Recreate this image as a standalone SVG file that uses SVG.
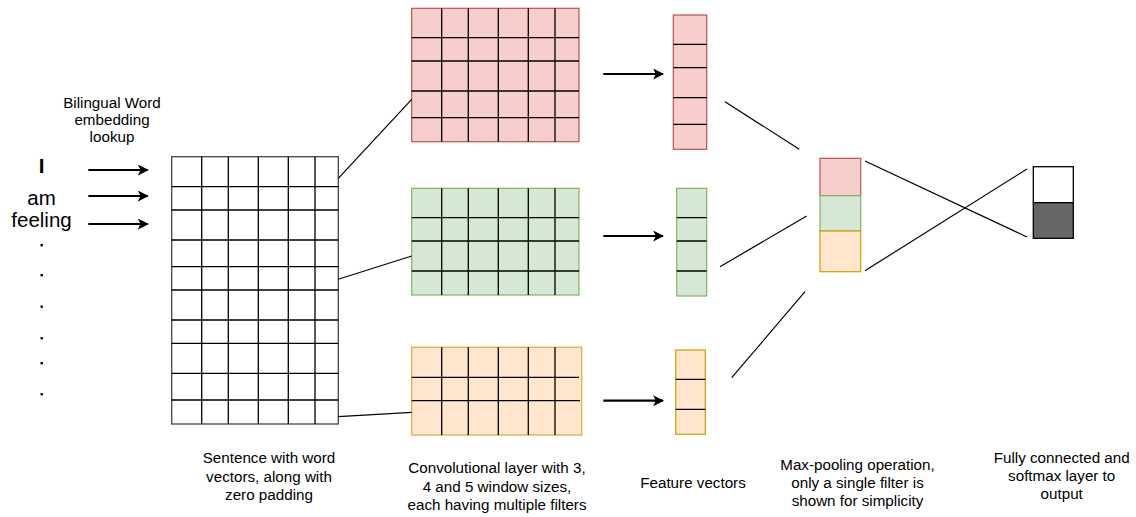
<svg xmlns="http://www.w3.org/2000/svg" width="1136" height="517" viewBox="0 0 1136 517">
<defs>
<marker id="ah" viewBox="0 0 10 10" refX="9" refY="5" markerWidth="5" markerHeight="5" orient="auto" markerUnits="strokeWidth">
<path d="M0,0 L10,5 L0,10 L2.5,5 Z" fill="#000"/>
</marker>
<style>
text{font-family:"Liberation Sans",Arial,Helvetica,sans-serif;fill:#000;}
.lbl{font-size:15.2px;text-anchor:middle;}
.word{font-size:20.5px;text-anchor:middle;}
.g{stroke:#000;stroke-width:1.3;fill:none;}
.conn{stroke:#000;stroke-width:1.2;fill:none;}
.arr{stroke:#000;stroke-width:2.2;fill:none;marker-end:url(#ah);}
.red{fill:#f8cecc;stroke:#b85450;stroke-width:1.2;}
.green{fill:#d5e8d4;stroke:#82b366;stroke-width:1.2;}
.orange{fill:#ffe6cc;stroke:#d79b00;stroke-width:1.2;}
.orangeg{fill:#ffe6cc;stroke:#dfb456;stroke-width:1.4;}
</style>
</defs>
<rect width="1136" height="517" fill="#fff"/>

<g id="words">
<text class="word" x="41.5" y="172.5" style="font-weight:bold">I</text>
<text class="word" x="41.5" y="205">am</text>
<text class="word" x="41.5" y="227">feeling</text>
<g fill="#000">
<rect x="40.5" y="244" width="2.4" height="2.4"/>
<rect x="40.5" y="274" width="2.4" height="2.4"/>
<rect x="40.5" y="305.5" width="2.4" height="2.4"/>
<rect x="40.5" y="337" width="2.4" height="2.4"/>
<rect x="40.5" y="362" width="2.4" height="2.4"/>
<rect x="40.5" y="393" width="2.4" height="2.4"/>
</g>
</g>

<g id="lookup-label">
<text class="lbl" x="112" y="108">Bilingual Word</text>
<text class="lbl" x="112" y="125">embedding</text>
<text class="lbl" x="112" y="142">lookup</text>
</g>

<g id="sentence-matrix">
<rect x="171.7" y="156.7" width="166.6" height="267.3" fill="#fff" stroke="#444" stroke-width="1.3"/>
<path class="g" d="M201.7,156.7V424 M228.3,156.7V424 M258.3,156.7V424 M288.3,156.7V424 M315,156.7V424 M171.7,186.7H338.3 M171.7,210H338.3 M171.7,240H338.3 M171.7,266.7H338.3 M171.7,290H338.3 M171.7,320H338.3 M171.7,343.3H338.3 M171.7,373.3H338.3 M171.7,400H338.3"/>
</g>

<g id="conv-red">
<rect class="red" x="411.7" y="8.3" width="167.3" height="133.4"/>
<path class="g" d="M441.7,8.3V141.7 M468.3,8.3V141.7 M498.3,8.3V141.7 M528.3,8.3V141.7 M555,8.3V141.7 M411.7,37.7H579 M411.7,61H579 M411.7,91H579 M411.7,117.7H579"/>
</g>

<g id="conv-green">
<rect class="green" x="411.7" y="188.3" width="167.3" height="106.7"/>
<path class="g" d="M441.7,188.3V295 M468.3,188.3V295 M498.3,188.3V295 M528.3,188.3V295 M555,188.3V295 M411.7,217.7H579 M411.7,241H579 M411.7,271H579"/>
</g>

<g id="conv-orange">
<rect class="orangeg" x="411.7" y="347.3" width="170" height="87.7"/>
<path class="g" d="M441.7,347.3V435 M468.3,347.3V435 M498.3,347.3V435 M528.3,347.3V435 M555,347.3V435 M411.7,377.3H579 M411.7,400.7H580"/>
</g>

<g id="feature-red">
<rect class="red" x="673.3" y="15" width="33.4" height="134.3"/>
<path class="g" d="M673.3,44.3H706.7 M673.3,67.7H706.7 M673.3,97.7H706.7 M673.3,124.3H706.7"/>
</g>

<g id="feature-green">
<rect class="green" x="676.7" y="188.3" width="30" height="107.7"/>
<path class="g" d="M676.7,217.7H706.7 M676.7,241H706.7 M676.7,271H706.7"/>
</g>

<g id="feature-orange">
<rect class="orange" x="675.7" y="350" width="29.6" height="84.3"/>
<path class="g" d="M675.7,379.3H705.3 M675.7,409.3H705.3"/>
</g>

<g id="maxpool">
<rect class="red" x="820" y="158.3" width="40.7" height="37.4"/>
<rect class="green" x="820" y="195.7" width="40.7" height="35.3"/>
<rect class="orange" x="820" y="231" width="40.7" height="40.7"/>
</g>

<g id="output">
<rect x="1033.3" y="166.7" width="40" height="36" fill="#fff" stroke="#000" stroke-width="1.3"/>
<rect x="1033.3" y="202.7" width="40" height="35.6" fill="#666666" stroke="#000" stroke-width="1.3"/>
</g>

<g id="connectors">
<path class="arr" d="M88.3,170H147.7"/>
<path class="arr" d="M88.3,196H147.7"/>
<path class="arr" d="M88.3,224H147.7"/>
<path class="conn" d="M338.3,178.3L411.7,99.3"/>
<path class="conn" d="M338.3,279.3L411.7,256"/>
<path class="conn" d="M338.3,416.7L411.7,412.3"/>
<path class="arr" d="M603.3,74H663"/>
<path class="arr" d="M603.3,236H663"/>
<path class="arr" d="M603.3,400.7H663"/>
<path class="conn" d="M725,101.7L799.3,149.3"/>
<path class="conn" d="M720,266.7L806.7,216"/>
<path class="conn" d="M731.7,377.7L805,291.7"/>
<path class="conn" d="M865,161L1027,237"/>
<path class="conn" d="M865,270.7L1027,169"/>
</g>

<g id="labels">
<text class="lbl" x="269" y="463">Sentence with word</text>
<text class="lbl" x="269" y="481.5">vectors, along with</text>
<text class="lbl" x="269" y="500">zero padding</text>
<text class="lbl" x="497" y="473">Convolutional layer with 3,</text>
<text class="lbl" x="497" y="491.5">4 and 5 window sizes,</text>
<text class="lbl" x="497" y="510">each having multiple filters</text>
<text class="lbl" x="693" y="488">Feature vectors</text>
<text class="lbl" x="857.5" y="470">Max-pooling operation,</text>
<text class="lbl" x="857.5" y="488">only a single filter is</text>
<text class="lbl" x="857.5" y="506">shown for simplicity</text>
<text class="lbl" x="1061.7" y="463">Fully connected and</text>
<text class="lbl" x="1061.7" y="481">softmax layer to</text>
<text class="lbl" x="1061.7" y="499">output</text>
</g>
</svg>
